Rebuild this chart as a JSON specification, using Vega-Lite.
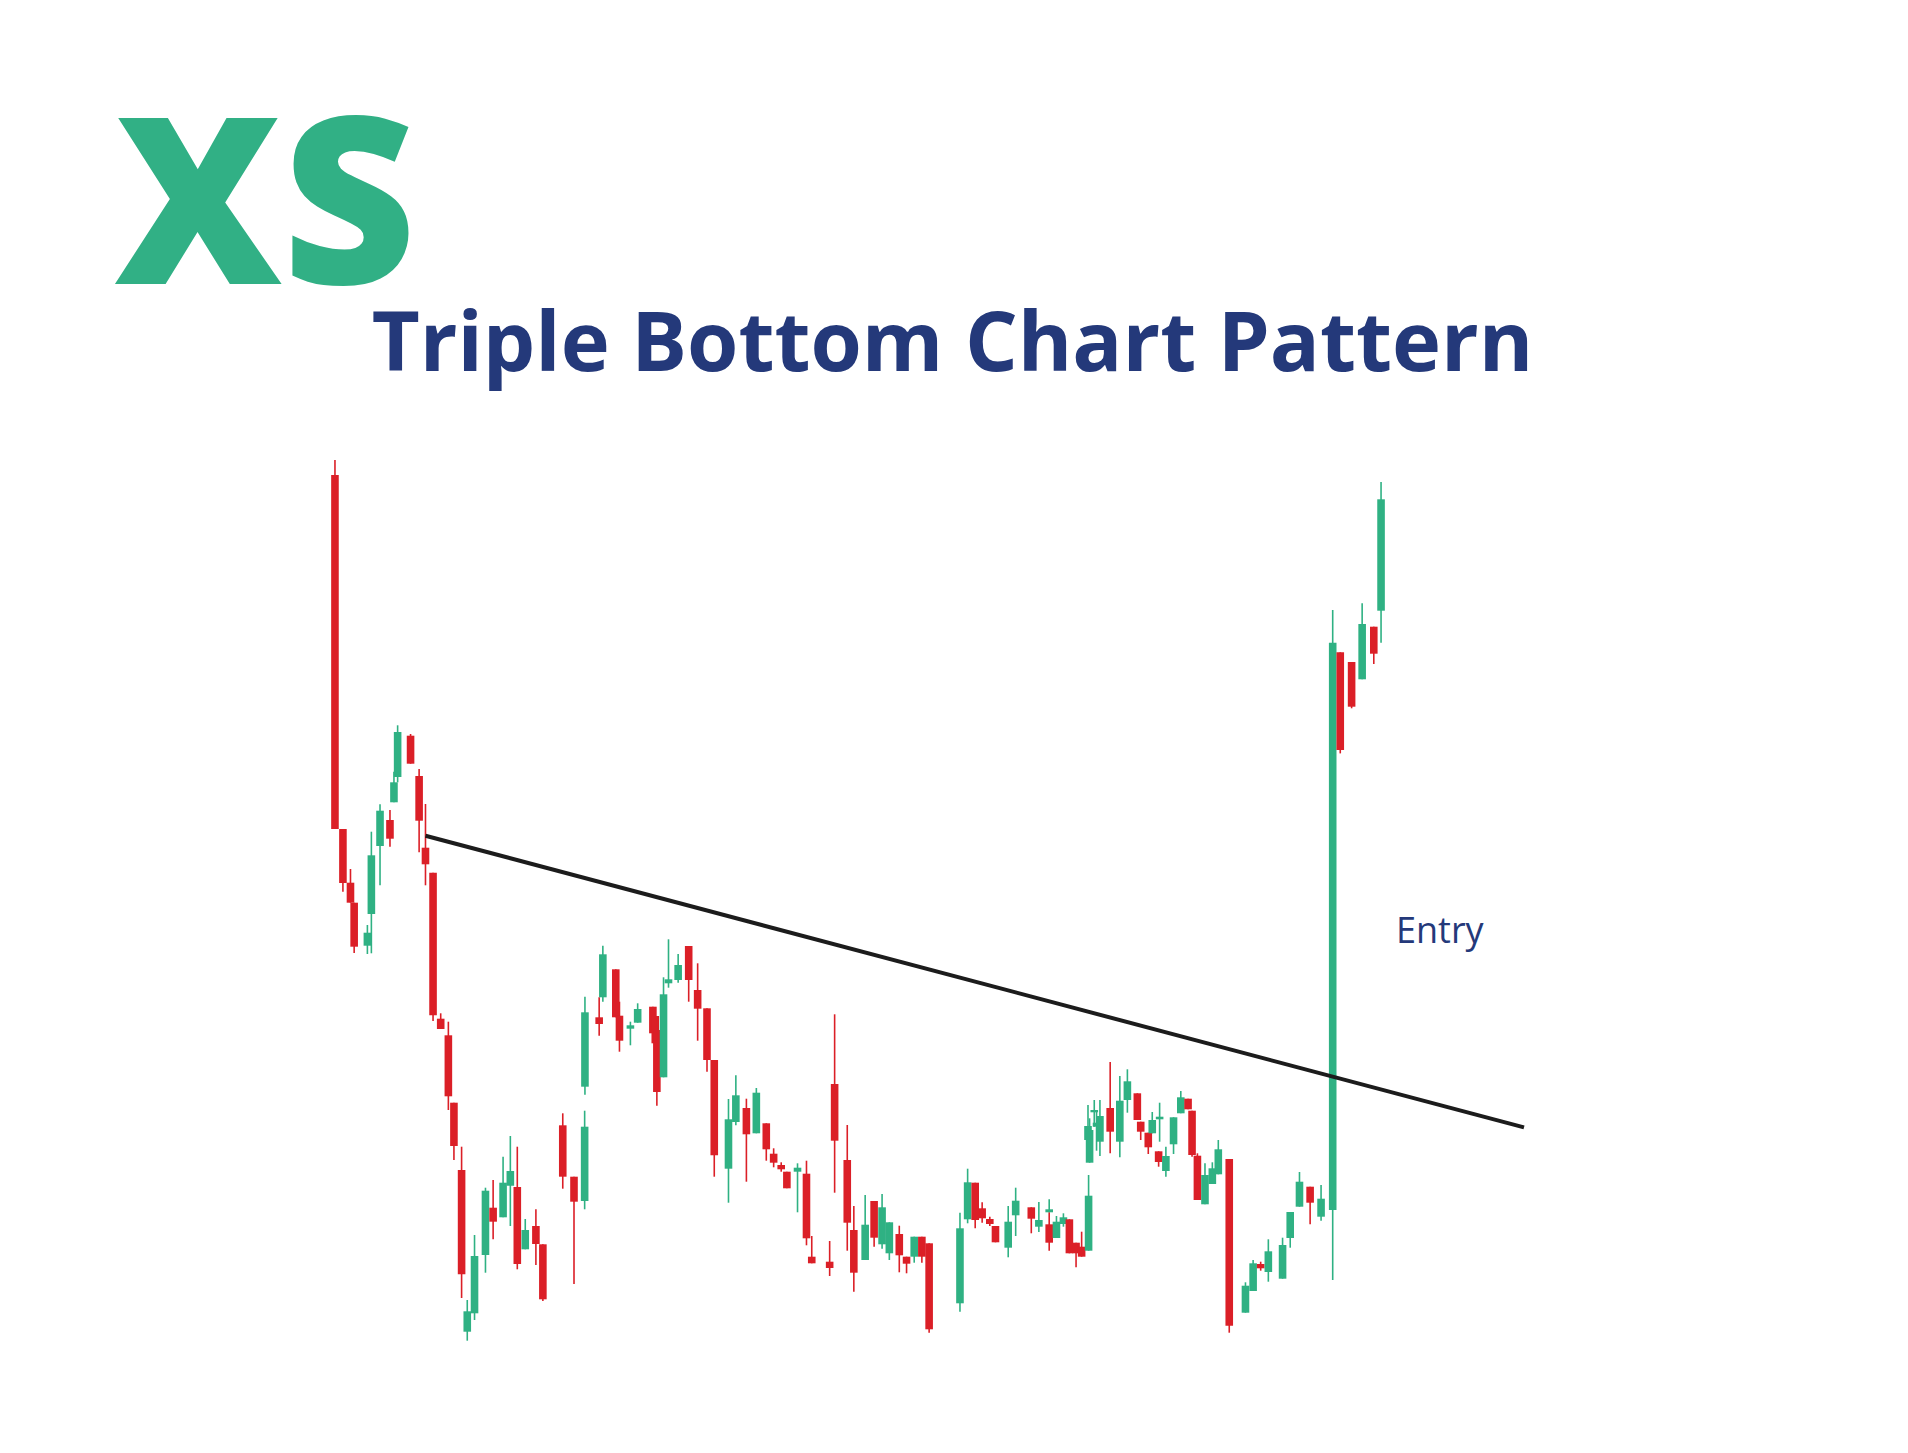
{
  "$schema": "https://vega.github.io/schema/vega-lite/v6.json",
  "width": 1908,
  "height": 1453,
  "autosize": {"type": "fit", "contains": "padding"},
  "padding": 0,
  "background": "white",
  "config": {"view": {"stroke": null}},
  "datasets": {
    "candles": [
      {"t":3.17,"o":102.5,"c":67.1,"h":104,"l":67.1},
      {"t":3.97,"o":67.1,"c":61.7,"h":67.1,"l":60.83},
      {"t":4.73,"o":61.73,"c":59.73,"h":63.1,"l":59.73},
      {"t":5.1,"o":59.73,"c":55.33,"h":59.73,"l":54.7},
      {"t":6.43,"o":55.43,"c":56.73,"h":57.5,"l":54.6},
      {"t":6.83,"o":58.6,"c":64.47,"h":66.83,"l":54.67},
      {"t":7.7,"o":65.4,"c":68.93,"h":69.57,"l":61.47},
      {"t":8.7,"o":68,"c":66.13,"h":69,"l":65.33},
      {"t":9.1,"o":69.77,"c":71.77,"h":72.83,"l":69.77},
      {"t":9.47,"o":72.3,"c":76.8,"h":77.47,"l":71.77},
      {"t":10.77,"o":76.43,"c":73.63,"h":76.6,"l":73.63},
      {"t":11.63,"o":72.4,"c":67.93,"h":73.1,"l":64.77},
      {"t":12.27,"o":65.23,"c":63.57,"h":69.6,"l":61.47},
      {"t":13.03,"o":62.73,"c":48.47,"h":62.73,"l":47.9},
      {"t":13.8,"o":48.13,"c":47.1,"h":48.67,"l":47.1},
      {"t":14.57,"o":46.47,"c":40.37,"h":47.83,"l":39},
      {"t":15.13,"o":39.73,"c":35.4,"h":39.73,"l":34},
      {"t":15.9,"o":33,"c":22.57,"h":35.33,"l":20.2},
      {"t":16.47,"o":16.83,"c":18.87,"h":20,"l":15.93},
      {"t":17.2,"o":18.67,"c":24.4,"h":26.5,"l":18},
      {"t":18.3,"o":24.5,"c":30.93,"h":31.23,"l":22.73},
      {"t":19.07,"o":29.23,"c":27.83,"h":32,"l":26.07},
      {"t":20.07,"o":28.27,"c":31.73,"h":34.33,"l":28.27},
      {"t":20.8,"o":31.43,"c":32.9,"h":36.4,"l":27.4},
      {"t":21.5,"o":31.3,"c":23.6,"h":35.33,"l":23.07},
      {"t":22.3,"o":25.07,"c":27,"h":28.1,"l":25.07},
      {"t":23.37,"o":27.4,"c":25.6,"h":29.07,"l":23.5},
      {"t":24.07,"o":25.57,"c":20.07,"h":25.57,"l":19.9},
      {"t":26.07,"o":37.47,"c":32.33,"h":38.67,"l":31.13},
      {"t":27.2,"o":32.33,"c":29.83,"h":32.33,"l":21.6},
      {"t":28.27,"o":29.9,"c":37.33,"h":38.93,"l":29.07},
      {"t":28.3,"o":41.33,"c":48.77,"h":50.33,"l":40.53},
      {"t":29.73,"o":48.27,"c":47.6,"h":50.27,"l":46.43},
      {"t":30.1,"o":50.27,"c":54.57,"h":55.43,"l":49.83},
      {"t":31.4,"o":53.07,"c":48.27,"h":53.07,"l":48.27},
      {"t":31.77,"o":48.43,"c":45.93,"h":49.83,"l":44.83},
      {"t":32.87,"o":47.13,"c":47.47,"h":47.83,"l":45.47},
      {"t":33.6,"o":47.73,"c":49.1,"h":49.67,"l":47.73},
      {"t":35.13,"o":49.33,"c":46.67,"h":49.33,"l":46.67},
      {"t":35.37,"o":48.4,"c":45.67,"h":48.4,"l":45.67},
      {"t":35.53,"o":47,"c":40.8,"h":47,"l":39.43},
      {"t":36.2,"o":42.27,"c":50.57,"h":52.27,"l":42.27},
      {"t":36.7,"o":51.67,"c":52.07,"h":56.07,"l":51.23},
      {"t":37.67,"o":52,"c":53.5,"h":54.6,"l":51.73},
      {"t":38.73,"o":55.4,"c":52,"h":55.4,"l":49.83},
      {"t":39.63,"o":51,"c":49.13,"h":53.67,"l":45.93},
      {"t":40.57,"o":49.17,"c":44,"h":49.17,"l":42.83},
      {"t":41.3,"o":44,"c":34.47,"h":44,"l":32.33},
      {"t":42.73,"o":33.13,"c":38.07,"h":40.1,"l":29.73},
      {"t":43.47,"o":37.8,"c":40.47,"h":42.47,"l":37.47},
      {"t":44.53,"o":39.2,"c":36.57,"h":40.13,"l":31.83},
      {"t":45.53,"o":36.67,"c":40.73,"h":41.2,"l":36.67},
      {"t":46.53,"o":37.67,"c":35.07,"h":37.67,"l":33.93},
      {"t":47.27,"o":34.63,"c":33.73,"h":35.17,"l":33.27},
      {"t":48.03,"o":33.5,"c":33.07,"h":33.77,"l":32.83},
      {"t":48.6,"o":32.83,"c":31.17,"h":32.83,"l":31.17},
      {"t":49.67,"o":32.83,"c":33.23,"h":33.67,"l":28.77},
      {"t":50.57,"o":32.63,"c":26.17,"h":33.93,"l":25.47},
      {"t":51.1,"o":24.33,"c":23.67,"h":26.4,"l":23.67},
      {"t":52.9,"o":23.83,"c":23.2,"h":25.9,"l":22.4},
      {"t":53.4,"o":41.6,"c":35.93,"h":48.57,"l":30.73},
      {"t":54.67,"o":34,"c":27.73,"h":37.5,"l":24.93},
      {"t":55.33,"o":27,"c":22.73,"h":29.4,"l":20.83},
      {"t":56.47,"o":24,"c":27.53,"h":30.5,"l":24},
      {"t":57.37,"o":29.9,"c":26.23,"h":29.9,"l":25.33},
      {"t":58.17,"o":25.57,"c":29.27,"h":30.6,"l":25.13},
      {"t":58.9,"o":24.67,"c":27.77,"h":27.77,"l":24},
      {"t":59.9,"o":26.6,"c":24.47,"h":27.43,"l":22.77},
      {"t":60.63,"o":24.33,"c":23.63,"h":24.33,"l":22.67},
      {"t":61.4,"o":24.33,"c":26.33,"h":26.33,"l":23.73},
      {"t":62.17,"o":26.33,"c":24.33,"h":26.33,"l":23.73},
      {"t":62.9,"o":25.67,"c":17.07,"h":25.67,"l":16.73},
      {"t":66,"o":19.67,"c":27.17,"h":28.73,"l":18.83},
      {"t":66.77,"o":28.07,"c":31.77,"h":33.13,"l":27.67},
      {"t":67.53,"o":31.73,"c":28,"h":31.73,"l":27.17},
      {"t":68.23,"o":29.17,"c":28.17,"h":29.77,"l":27.73},
      {"t":69,"o":28.1,"c":27.6,"h":28.33,"l":27.4},
      {"t":69.57,"o":27.4,"c":25.77,"h":27.4,"l":25.77},
      {"t":70.85,"o":25.23,"c":27.83,"h":29.4,"l":24.27},
      {"t":71.6,"o":28.47,"c":29.93,"h":31.23,"l":26.4},
      {"t":73.17,"o":29.27,"c":28.13,"h":29.27,"l":26.67},
      {"t":73.93,"o":27.33,"c":28,"h":29.8,"l":26.8},
      {"t":74.97,"o":28.77,"c":29.07,"h":30.07,"l":28.77},
      {"t":74.97,"o":27.57,"c":25.73,"h":28.77,"l":24.93},
      {"t":75.7,"o":26.2,"c":27.83,"h":28.4,"l":26.2},
      {"t":76.4,"o":27.6,"c":28.27,"h":28.67,"l":27.33},
      {"t":77,"o":28.07,"c":24.67,"h":28.07,"l":24.67},
      {"t":77.67,"o":25.73,"c":24.67,"h":25.73,"l":23.27},
      {"t":78.23,"o":25.33,"c":24.33,"h":26.83,"l":24.33},
      {"t":78.93,"o":24.93,"c":30.43,"h":32.5,"l":24.93},
      {"t":78.87,"o":36,"c":37.4,"h":39.5,"l":36},
      {"t":79.03,"o":33.73,"c":37,"h":38.17,"l":33.73},
      {"t":79.5,"o":38.77,"c":39,"h":40,"l":37.33},
      {"t":79.73,"o":37.33,"c":37.73,"h":38.8,"l":34.93},
      {"t":80.07,"o":35.83,"c":38.4,"h":40,"l":34.4},
      {"t":81.1,"o":39.2,"c":36.83,"h":43.8,"l":34.67},
      {"t":82.07,"o":35.83,"c":39.93,"h":42.4,"l":34.27},
      {"t":82.83,"o":40,"c":41.87,"h":43.07,"l":38.73},
      {"t":83.83,"o":40.67,"c":38,"h":40.67,"l":38},
      {"t":84.17,"o":37.83,"c":36.83,"h":37.83,"l":36},
      {"t":84.93,"o":36.73,"c":35.27,"h":36.73,"l":34.6},
      {"t":85.33,"o":36.67,"c":38,"h":38.8,"l":36.67},
      {"t":86.07,"o":38.07,"c":38.33,"h":39.73,"l":35.83},
      {"t":85.97,"o":34.87,"c":33.8,"h":34.87,"l":33.33},
      {"t":86.7,"o":32.9,"c":34.4,"h":35.33,"l":32.33},
      {"t":87.47,"o":35.57,"c":38.27,"h":38.27,"l":34.6},
      {"t":88.2,"o":38.67,"c":40.27,"h":40.9,"l":38.67},
      {"t":88.93,"o":40.13,"c":39.07,"h":40.13,"l":39.07},
      {"t":89.33,"o":38.93,"c":34.5,"h":38.93,"l":34.33},
      {"t":89.87,"o":34.43,"c":30,"h":34.67,"l":30},
      {"t":90.63,"o":29.57,"c":32.5,"h":33.67,"l":29.57},
      {"t":91.37,"o":31.6,"c":33.17,"h":33.77,"l":31.6},
      {"t":91.97,"o":32.57,"c":35.07,"h":36,"l":32.57},
      {"t":93.07,"o":34.1,"c":17.43,"h":34.1,"l":16.73},
      {"t":94.7,"o":18.73,"c":21.43,"h":21.77,"l":18.73},
      {"t":95.47,"o":20.9,"c":23.67,"h":24,"l":20.9},
      {"t":96.23,"o":23.6,"c":23.17,"h":23.83,"l":22.93},
      {"t":97,"o":22.8,"c":24.87,"h":26.07,"l":21.83},
      {"t":98.43,"o":22.13,"c":25.5,"h":26.23,"l":22.13},
      {"t":99.2,"o":26.2,"c":28.8,"h":28.8,"l":25.23},
      {"t":100.13,"o":29.33,"c":31.83,"h":32.8,"l":29.33},
      {"t":101.2,"o":31.33,"c":29.73,"h":31.33,"l":27.57},
      {"t":102.3,"o":28.33,"c":30.13,"h":31.5,"l":27.93},
      {"t":103.47,"o":29,"c":85.73,"h":89,"l":22},
      {"t":104.23,"o":84.77,"c":75,"h":84.77,"l":74.66},
      {"t":105.37,"o":83.8,"c":79.33,"h":83.8,"l":79.17},
      {"t":106.43,"o":82.07,"c":87.6,"h":89.67,"l":82.07},
      {"t":107.6,"o":87.33,"c":84.63,"h":87.33,"l":83.6},
      {"t":108.33,"o":88.93,"c":100.07,"h":101.8,"l":85.73}
    ],
    "trend": [
      {"t":12.27,"p":66.43},
      {"t":122.7,"p":37.26}
    ]
  },
  "layer": [
    {
      "data": {"name": "candles"},
      "mark": {"type": "rule", "strokeWidth": 1.6},
      "encoding": {
        "x": {"field": "t", "type": "quantitative", "scale": {"domain": [-30, 160.8], "nice": false, "zero": false}, "axis": null},
        "y": {"field": "l", "type": "quantitative", "scale": {"domain": [4.7, 150], "nice": false, "zero": false}, "axis": null},
        "y2": {"field": "h"},
        "color": {"condition": {"test": "datum.c > datum.o", "value": "#2fb183"}, "value": "#db1f27"}
      }
    },
    {
      "data": {"name": "candles"},
      "mark": {"type": "bar", "width": 7.6},
      "encoding": {
        "x": {"field": "t", "type": "quantitative", "scale": {"domain": [-30, 160.8], "nice": false, "zero": false}, "axis": null},
        "y": {"field": "o", "type": "quantitative", "scale": {"domain": [4.7, 150], "nice": false, "zero": false}, "axis": null},
        "y2": {"field": "c"},
        "color": {"condition": {"test": "datum.c > datum.o", "value": "#2fb183"}, "value": "#db1f27"}
      }
    },
    {
      "data": {"name": "trend"},
      "mark": {"type": "line", "stroke": "#1c1c1c", "strokeWidth": 4},
      "encoding": {
        "x": {"field": "t", "type": "quantitative", "scale": {"domain": [-30, 160.8], "nice": false, "zero": false}, "axis": null},
        "y": {"field": "p", "type": "quantitative", "scale": {"domain": [4.7, 150], "nice": false, "zero": false}, "axis": null}
      }
    },
    {
      "data": {"values": [{"label": "Triple Bottom Chart Pattern"}]},
      "mark": {"type": "text", "font": "Open Sans", "fontWeight": 700, "fontSize": 83, "color": "#24397a", "align": "center", "baseline": "alphabetic"},
      "encoding": {
        "text": {"field": "label"},
        "x": {"datum": 65.25, "type": "quantitative", "scale": {"domain": [-30, 160.8], "nice": false, "zero": false}, "axis": null},
        "y": {"datum": 112.9, "type": "quantitative", "scale": {"domain": [4.7, 150], "nice": false, "zero": false}, "axis": null}
      }
    },
    {
      "data": {"values": [{"label": "XS"}]},
      "mark": {"type": "text", "font": "Open Sans", "fontWeight": 800, "fontSize": 232, "color": "#31b085", "align": "left", "baseline": "alphabetic"},
      "encoding": {
        "text": {"field": "label"},
        "x": {"datum": -19, "type": "quantitative", "scale": {"domain": [-30, 160.8], "nice": false, "zero": false}, "axis": null},
        "y": {"datum": 121.6, "type": "quantitative", "scale": {"domain": [4.7, 150], "nice": false, "zero": false}, "axis": null}
      }
    },
    {
      "data": {"values": [{"label": "Entry"}]},
      "mark": {"type": "text", "font": "Open Sans", "fontWeight": 400, "fontSize": 36, "color": "#24397a", "align": "left", "baseline": "alphabetic"},
      "encoding": {
        "text": {"field": "label"},
        "x": {"datum": 109.83, "type": "quantitative", "scale": {"domain": [-30, 160.8], "nice": false, "zero": false}, "axis": null},
        "y": {"datum": 55.67, "type": "quantitative", "scale": {"domain": [4.7, 150], "nice": false, "zero": false}, "axis": null}
      }
    }
  ]
}
